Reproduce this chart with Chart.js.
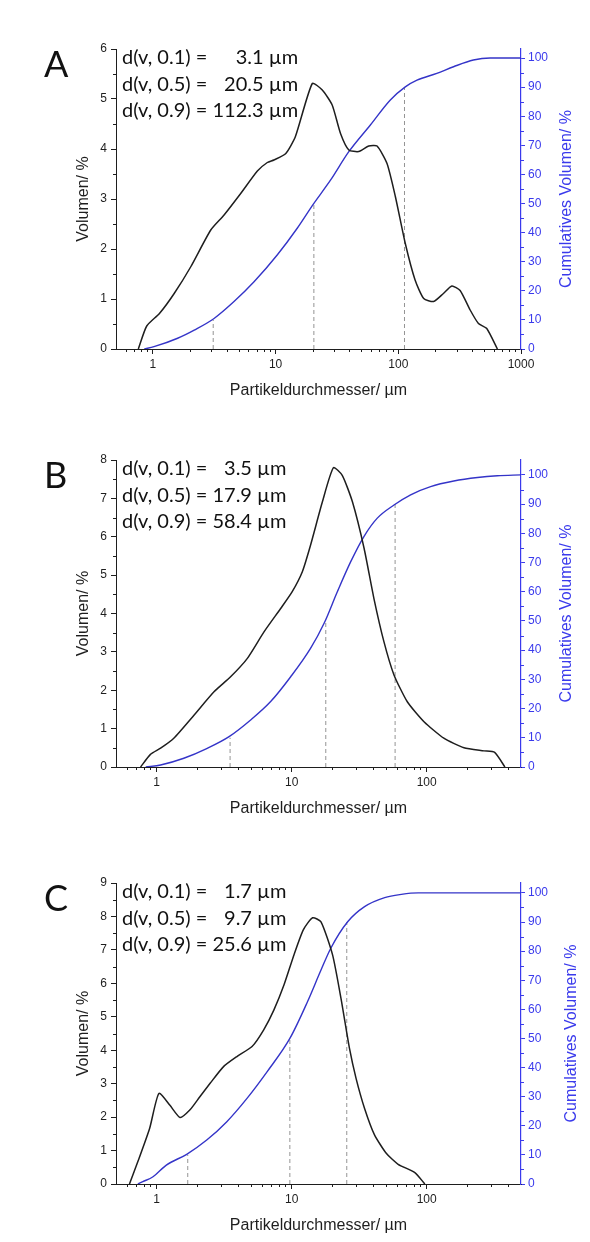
<!DOCTYPE html>
<html>
<head>
<meta charset="utf-8">
<script src="https://cdn.jsdelivr.net/npm/chart.js@4.4.1/dist/chart.umd.min.js"></script>
<style>
  html, body { margin: 0; padding: 0; background: #fff; }
  body { width: 590px; height: 1242px; position: relative; overflow: hidden; }
  canvas { position: absolute; left: 0; }
</style>
</head>
<body>
<canvas id="panelA" width="590" height="410" style="top:0px"></canvas>
<canvas id="panelB" width="590" height="415" style="top:410px"></canvas>
<canvas id="panelC" width="590" height="417" style="top:825px"></canvas>
<script>
// Particle size distributions: volume density (left) and cumulative volume (right)
const percentiles = [0.1, 0.5, 0.9]

// Sample A
const sizeA = [0.76, 0.89, 1.13, 1.49, 2.04, 2.96, 3.8, 5.19, 7.1, 8.56, 9.68, 12.1, 14.5, 19.9, 24.0, 28.9, 33.8, 39.5, 47.6, 57.4, 67.1, 80.9, 94.6, 114, 137, 161, 194, 233, 273, 319, 385, 450, 526, 642]
const volA = [0, 0.46, 0.71, 1.11, 1.65, 2.38, 2.68, 3.11, 3.56, 3.73, 3.78, 3.91, 4.25, 5.31, 5.18, 4.88, 4.31, 3.98, 3.95, 4.06, 4.06, 3.71, 3.05, 2.11, 1.38, 1.01, 0.95, 1.11, 1.26, 1.17, 0.78, 0.51, 0.41, 0]
const cumSizeA = [0.85, 1.02, 1.59, 2.17, 3.15, 4.58, 6.67, 10.3, 15.0, 20.3, 28.0, 39.5, 59.2, 86.1, 114, 142, 206, 282, 409, 560, 1000]
const cumA = [0, 0.8, 3.7, 6.5, 10.5, 16.3, 23.1, 32.3, 41.5, 49.8, 58.0, 67.8, 77.0, 85.6, 90.1, 92.4, 94.7, 97.0, 99.3, 100, 100]
const dA = [3.1, 20.5, 112.3]

// Sample B
const sizeB = [0.76, 0.90, 1.07, 1.34, 1.89, 2.66, 3.53, 4.70, 6.24, 8.29, 10.1, 12.0, 13.8, 16.9, 20.4, 23.7, 28.2, 34.4, 40.7, 48.3, 57.3, 71.9, 95.6, 134, 189, 266, 319, 380]
const volB = [0, 0.33, 0.49, 0.75, 1.35, 1.96, 2.35, 2.83, 3.52, 4.13, 4.57, 5.09, 5.78, 6.91, 7.8, 7.6, 6.91, 5.70, 4.39, 3.26, 2.40, 1.70, 1.18, 0.75, 0.50, 0.42, 0.38, 0]
const cumSizeB = [0.83, 1.07, 1.59, 2.37, 3.44, 4.97, 6.99, 9.84, 13.8, 17.4, 21.8, 27.4, 34.3, 43.1, 57.3, 76.1, 107, 159, 238, 334, 500]
const cumB = [0, 0.7, 3.0, 6.4, 10.4, 16.1, 22.4, 30.9, 40.6, 49.2, 60.0, 70.3, 78.9, 85.2, 89.7, 93.2, 96.0, 97.9, 99.1, 99.7, 100]
const dB = [3.5, 17.9, 58.4]

// Sample C
const sizeC = [0.629, 0.726, 0.887, 1.04, 1.25, 1.49, 1.76, 2.09, 2.49, 3.13, 3.93, 5.09, 6.21, 7.38, 8.77, 10.4, 12.2, 14.3, 16.5, 20.1, 23.2, 26.8, 30.0, 34.7, 41.1, 50.2, 61.5, 81.8, 97]
const volC = [0, 0.67, 1.66, 2.71, 2.36, 1.99, 2.21, 2.61, 3.01, 3.51, 3.81, 4.11, 4.61, 5.20, 5.95, 6.85, 7.60, 7.96, 7.84, 6.85, 5.55, 4.06, 3.16, 2.26, 1.47, 0.92, 0.59, 0.34, 0]
const cumSizeC = [0.726, 0.79, 0.94, 1.18, 1.67, 2.35, 3.31, 4.67, 6.59, 9.7, 13.1, 16.5, 19.5, 26.0, 34.7, 48.9, 65.0, 86.7, 500]
const cumC = [0, 0.8, 2.5, 6.5, 10.2, 15.1, 21.4, 29.4, 38.6, 50.0, 62.6, 73.5, 81.0, 90.1, 95.3, 98.4, 99.5, 100, 100]
const dC = [1.7, 9.7, 25.6]

// axis ticks
const xMajorA = [1, 10, 100, 1000]
const xMajorBC = [1, 10, 100]

const BLACK = '#1e1e1e'
const BLUE_LINE = '#3434c8'
const BLUE_AXIS = '#3a3aec'
const SANS = "'Liberation Sans', Arial, sans-serif"
const HUMANIST = "Lato, 'Open Sans', sans-serif"

// short ticks between the labelled ones
const minorTicks = {
  id: 'minorTicks',
  afterDraw(chart, args, opts) {
    const { ctx, scales } = chart
    const { x, y, y2 } = scales
    ctx.save()
    ctx.lineWidth = 1
    const seg = (x1, y1, x2, y2_) => { ctx.beginPath(); ctx.moveTo(x1, y1); ctx.lineTo(x2, y2_); ctx.stroke() }
    ctx.strokeStyle = BLACK
    opts.x.forEach(v => {
      const px = Math.round(x.getPixelForValue(v)) + 0.5
      seg(px, x.top, px, x.top + 3)
    })
    opts.y.forEach(v => {
      const py = Math.round(y.getPixelForValue(v)) + 0.5
      seg(y.right, py, y.right - 3, py)
    })
    ctx.strokeStyle = BLUE_AXIS
    opts.y2.forEach(v => {
      const py = Math.round(y2.getPixelForValue(v)) + 0.5
      seg(y2.left, py, y2.left + 3, py)
    })
    ctx.restore()
  }
}

// panel letter, d(v) values and the right axis title
const panelText = {
  id: 'panelText',
  afterDraw(chart, args, opts) {
    const { ctx, chartArea } = chart
    ctx.save()
    ctx.fillStyle = '#111'
    ctx.font = `36px ${HUMANIST}`
    ctx.textBaseline = 'alphabetic'
    ctx.fillText(opts.letter, 44, chartArea.top + 28)

    ctx.font = `20px ${HUMANIST}`
    ctx.textBaseline = 'middle'
    const left = chartArea.left + 6
    const labels = percentiles.map(p => `d(v, ${p}) =`)
    const values = opts.d.map(v => `${v} µm`)
    const prefixW = Math.max(...labels.map(l => ctx.measureText(l).width))
    const space = ctx.measureText(' ').width
    const valueW = Math.max(...values.map(v => ctx.measureText(v).width))
    const right = left + prefixW + space + valueW
    labels.forEach((l, i) => {
      const yy = chartArea.top + 9 + i * 26.3
      ctx.textAlign = 'left'
      ctx.fillText(l, left, yy)
      ctx.textAlign = 'right'
      ctx.fillText(values[i], right, yy)
    })

    ctx.fillStyle = BLUE_AXIS
    ctx.font = `16px ${SANS}`
    ctx.textAlign = 'center'
    ctx.translate(opts.rightTitleX, (chartArea.top + chartArea.bottom) / 2)
    ctx.rotate(-Math.PI / 2)
    ctx.fillText('Cumulatives Volumen/ %', 0, 0)
    ctx.restore()
  }
}

function pairs(xs, ys) {
  return xs.map((x, i) => ({ x, y: ys[i] }))
}

function buildPanel(id, p) {
  const canvas = document.getElementById(id)
  const xAxisH = 55
  const padLeft = 70
  const padRight = 12
  const pad = { left: padLeft, right: padRight, top: p.plotTop, bottom: canvas.height - p.plotBottom - xAxisH }

  const minorX = []
  for (let dec = 0.1; dec < p.xMax; dec *= 10) {
    for (let k = 2; k <= 9; k++) {
      const v = +(k * dec).toPrecision(3)
      if (v > p.xMin && v < p.xMax && !p.xMajor.includes(v)) minorX.push(v)
    }
  }
  const minorY = []
  for (let v = 0.5; v < p.yMax; v += 1) minorY.push(v)
  const minorY2 = []
  for (let v = 5; v < 100; v += 10) minorY2.push(v)

  const dashed = p.d.map((d, i) => ({
    data: [{ x: d, y: 0 }, { x: d, y: percentiles[i] * 100 }],
    yAxisID: 'y2',
    borderColor: '#949494',
    borderWidth: 1,
    borderDash: [4, 3],
    pointRadius: 0,
    tension: 0
  }))

  const tickFont = { family: SANS, size: 12 }
  const titleFont = { family: SANS, size: 16 }

  new Chart(canvas.getContext('2d'), {
    type: 'line',
    data: {
      datasets: [
        {
          label: 'Volumen',
          data: pairs(p.size, p.vol),
          yAxisID: 'y',
          borderColor: BLACK,
          borderWidth: 1.5,
          pointRadius: 0,
          tension: 0.2
        },
        {
          label: 'Cumulatives Volumen',
          data: pairs(p.cumSize, p.cum),
          yAxisID: 'y2',
          borderColor: BLUE_LINE,
          borderWidth: 1.4,
          pointRadius: 0,
          cubicInterpolationMode: 'monotone'
        },
        ...dashed
      ]
    },
    options: {
      responsive: false,
      animation: false,
      layout: { padding: pad },
      plugins: {
        legend: { display: false },
        tooltip: { enabled: false },
        minorTicks: { x: minorX, y: minorY, y2: minorY2 },
        panelText: { letter: p.letter, d: p.d, rightTitleX: p.rightTitleX }
      },
      scales: {
        x: {
          type: 'logarithmic',
          position: 'bottom',
          min: p.xMin,
          max: p.xMax,
          afterBuildTicks: s => { s.ticks = p.xMajor.map(v => ({ value: v })) },
          afterFit: s => { s.height = xAxisH },
          ticks: { autoSkip: false, maxRotation: 0, color: BLACK, font: tickFont, padding: 3, callback: v => String(v) },
          grid: { display: true, drawOnChartArea: false, tickLength: 5, tickColor: BLACK },
          border: { display: true, color: BLACK, width: 1 },
          title: { display: true, text: 'Partikeldurchmesser/ µm', color: BLACK, font: titleFont, padding: { top: 4, bottom: 4 } }
        },
        y: {
          type: 'linear',
          position: 'left',
          min: 0,
          max: p.yMax,
          afterFit: s => { s.width = 116 - padLeft },
          ticks: { stepSize: 1, color: BLACK, font: tickFont, padding: 4 },
          grid: { display: true, drawOnChartArea: false, tickLength: 5, tickColor: BLACK },
          border: { display: true, color: BLACK, width: 1 },
          title: { display: true, text: 'Volumen/ %', color: BLACK, font: titleFont, padding: { top: 4, bottom: 4 } }
        },
        y2: {
          type: 'linear',
          position: 'right',
          min: 0,
          max: p.y2Max,
          afterFit: s => { s.width = 590 - padRight - 521 },
          ticks: { stepSize: 10, includeBounds: false, color: BLUE_AXIS, font: tickFont, padding: 3 },
          grid: { display: true, drawOnChartArea: false, tickLength: 4, tickColor: BLUE_AXIS },
          border: { display: true, color: BLUE_AXIS, width: 1.2 }
        }
      }
    },
    plugins: [minorTicks, panelText]
  })
}

buildPanel('panelA', {
  letter: 'A', size: sizeA, vol: volA, cumSize: cumSizeA, cum: cumA, d: dA,
  xMin: 0.5, xMax: 1000, xMajor: xMajorA, yMax: 6, y2Max: 103.1,
  plotTop: 49, plotBottom: 349, rightTitleX: 567
})
buildPanel('panelB', {
  letter: 'B', size: sizeB, vol: volB, cumSize: cumSizeB, cum: cumB, d: dB,
  xMin: 0.5, xMax: 500, xMajor: xMajorBC, yMax: 8, y2Max: 105.1,
  plotTop: 50, plotBottom: 357, rightTitleX: 567
})
buildPanel('panelC', {
  letter: 'C', size: sizeC, vol: volC, cumSize: cumSizeC, cum: cumC, d: dC,
  xMin: 0.5, xMax: 500, xMajor: xMajorBC, yMax: 9, y2Max: 103.4,
  plotTop: 58, plotBottom: 359, rightTitleX: 572
})
</script>
</body>
</html>
